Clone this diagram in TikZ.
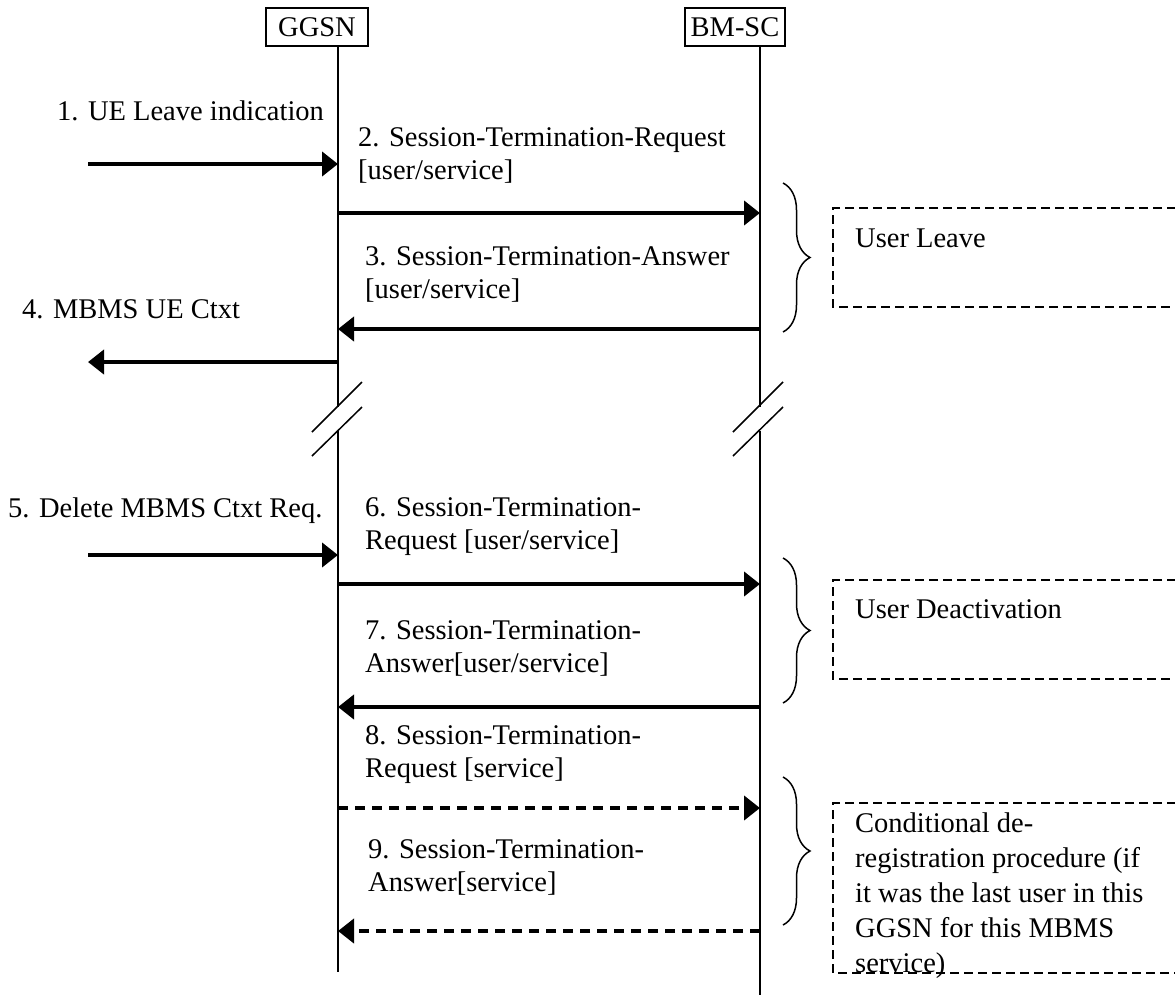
\documentclass[tikz,border=0pt]{standalone}
\usepackage{fontspec}
\setmainfont{Liberation Serif}
\usetikzlibrary{arrows.meta,decorations.pathreplacing}
\begin{document}
\begin{tikzpicture}[x=1pt,y=-1pt,
  txt/.style={anchor=base west,inner sep=0pt,font=\fontsize{28.5}{34}\selectfont},
  entity/.style={draw,line width=1.5pt,minimum height=38pt,inner sep=0pt,font=\fontsize{28.5}{34}\selectfont},
  life/.style={line width=1.5pt},
  msg/.style={line width=4.5pt,-{Triangle[length=16pt,width=24pt]}},
  dmsg/.style={msg,dash pattern=on 10pt off 7pt},
  grp/.style={draw,line width=2.5pt,dash pattern=on 9pt off 5pt},
  brc/.style={line width=1.5pt,decorate,decoration={brace,amplitude=27pt}},
  brk/.style={line width=1.5pt}]
\useasboundingbox (0,0) rectangle (1175,997);
% entities
\node[entity,minimum width=102pt] (ggsn) at (317,27) {GGSN};
\node[entity,minimum width=100pt] (bmsc) at (735,27) {BM-SC};
% lifelines with breaks
\coordinate (gtopbrk) at (338,407);
\coordinate (gbotbrk) at (338,431);
\coordinate (gend) at (338,972);
\coordinate (btopbrk) at (760,407);
\coordinate (bbotbrk) at (760,431);
\coordinate (bend) at (760,995);
\draw[life] (ggsn.south -| gtopbrk) -- (gtopbrk);
\draw[life] (gbotbrk) -- (gend);
\draw[life] (bmsc.south -| btopbrk) -- (btopbrk);
\draw[life] (bbotbrk) -- (bend);
\draw[brk] (312,432) -- (362,382);
\draw[brk] (312,456) -- (362,407);
\draw[brk] (733,432) -- (783,382);
\draw[brk] (733,456) -- (783,407);
% message end points
\coordinate (e1) at (88,164);   \coordinate (g1) at (338,164);
\coordinate (g2) at (338,213);  \coordinate (b2) at (760,213);
\coordinate (b3) at (760,329);  \coordinate (g3) at (338,329);
\coordinate (g4) at (338,362);  \coordinate (e4) at (88,362);
\coordinate (e5) at (88,555);   \coordinate (g5) at (338,555);
\coordinate (g6) at (338,584);  \coordinate (b6) at (760,584);
\coordinate (b7) at (760,707);  \coordinate (g7) at (338,707);
\coordinate (g8) at (338,808);  \coordinate (b8) at (760,808);
\coordinate (b9) at (760,931);  \coordinate (g9) at (338,931);
\draw[msg] (e1) -- (g1);
\draw[msg] (g2) -- (b2);
\draw[msg] (b3) -- (g3);
\draw[msg] (g4) -- (e4);
\draw[msg] (e5) -- (g5);
\draw[msg] (g6) -- (b6);
\draw[msg] (b7) -- (g7);
\draw[dmsg] (g8) -- (b8);
\draw[dmsg] (b9) -- (g9);
% labels
\node[txt] (l1) at (57,120) {1. UE Leave indication};
\node[txt] (l2a) at (358,146) {2. Session-Termination-Request};
\node[txt] (l2b) at (358,179) {[user/service]};
\node[txt] (l3a) at (365,265) {3. Session-Termination-Answer};
\node[txt] (l3b) at (365,298) {[user/service]};
\node[txt] (l4) at (22,318) {4. MBMS UE Ctxt};
\node[txt] (l5) at (8,517) {5. Delete MBMS Ctxt Req.};
\node[txt] (l6a) at (365,516) {6. Session-Termination-};
\node[txt] (l6b) at (365,549) {Request [user/service]};
\node[txt] (l7a) at (365,639) {7. Session-Termination-};
\node[txt] (l7b) at (365,672) {Answer[user/service]};
\node[txt] (l8a) at (365,744) {8. Session-Termination-};
\node[txt] (l8b) at (365,777) {Request [service]};
\node[txt] (l9a) at (368,858) {9. Session-Termination-};
\node[txt] (l9b) at (368,891) {Answer[service]};
% braces
\draw[brc] (783,183) -- (783,332);
\draw[brc] (783,558) -- (783,703);
\draw[brc] (783,777) -- (783,925);
% group boxes
\draw[grp] (1190,208) -- (833,208) -- (833,307) -- (1190,307);
\node[txt] (g1t) at (855,247) {User Leave};
\draw[grp] (1190,580) -- (833,580) -- (833,679) -- (1190,679);
\node[txt] (g2t) at (855,618) {User Deactivation};
\draw[grp] (1190,803) -- (833,803) -- (833,973) -- (1190,973);
\node[txt] (g3a) at (855,832) {Conditional de-};
\node[txt] (g3b) at (855,867) {registration procedure (if};
\node[txt] (g3c) at (855,902) {it was the last user in this};
\node[txt] (g3d) at (855,937) {GGSN for this MBMS};
\node[txt] (g3e) at (855,972) {service)};
\end{tikzpicture}
\end{document}
